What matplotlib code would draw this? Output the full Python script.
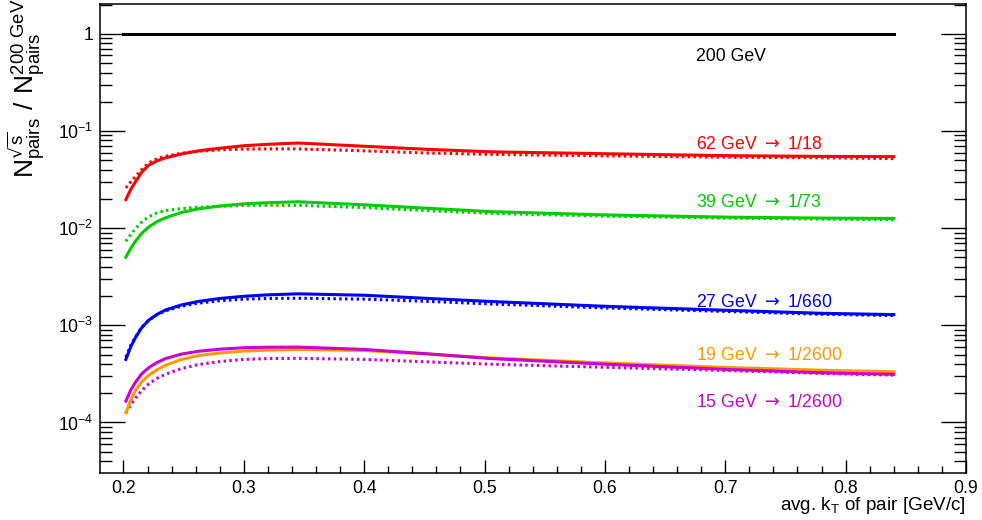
import matplotlib
matplotlib.use("Agg")
import matplotlib.pyplot as plt
import numpy as np
from matplotlib.ticker import MultipleLocator, FixedLocator, FixedFormatter, LogLocator, NullFormatter

plt.rcParams['font.family'] = ['Liberation Sans', 'DejaVu Sans']
plt.rcParams['mathtext.fontset'] = 'dejavusans'

# avg. kT of pair [GeV/c]
kt = [0.202, 0.206, 0.21, 0.215, 0.221, 0.228, 0.235, 0.248, 0.262, 0.28,
      0.30, 0.32, 0.345, 0.40, 0.45, 0.505, 0.60, 0.70, 0.78, 0.84]

ref_kt = [0.2, 0.84]
ref_200 = [1.0, 1.0]

red_solid = [0.0197, 0.025, 0.0300, 0.0375, 0.0445, 0.0495, 0.0530, 0.0580, 0.0625, 0.0665,
             0.0706, 0.073, 0.0753, 0.0697, 0.065, 0.0611, 0.0584, 0.0558, 0.0548, 0.0545]
red_dot = [0.026, 0.030, 0.034, 0.040, 0.0470, 0.0520, 0.0550, 0.0590, 0.0619, 0.064,
           0.0652, 0.0655, 0.0655, 0.0625, 0.0595, 0.0575, 0.0555, 0.0538, 0.053, 0.052]

green_solid = [0.00502, 0.0062, 0.00735, 0.0088, 0.0103, 0.0117, 0.0128, 0.0145, 0.0158, 0.0169,
               0.0178, 0.0183, 0.0187, 0.0174, 0.0161, 0.0148, 0.0137, 0.01300, 0.0127, 0.0126]
green_dot = [0.00733, 0.0086, 0.0099, 0.0115, 0.0131, 0.0144, 0.0152, 0.0159, 0.0164, 0.0168,
             0.0171, 0.0172, 0.0172, 0.0163, 0.0152, 0.0142, 0.0133, 0.0127, 0.0124, 0.0122]

blue_solid = [4.46e-4, 6.0e-4, 7.5e-4, 9.4e-4, 1.13e-3, 1.30e-3, 1.44e-3, 1.62e-3, 1.76e-3, 1.89e-3,
              1.99e-3, 2.06e-3, 2.11e-3, 2.04e-3, 1.90e-3, 1.76e-3, 1.57e-3, 1.43e-3, 1.33e-3, 1.29e-3]
blue_dot = [4.7e-4, 6.2e-4, 7.6e-4, 9.5e-4, 1.13e-3, 1.29e-3, 1.41e-3, 1.57e-3, 1.69e-3, 1.79e-3,
            1.86e-3, 1.89e-3, 1.90e-3, 1.86e-3, 1.77e-3, 1.66e-3, 1.51e-3, 1.39e-3, 1.30e-3, 1.26e-3]

orange_solid = [1.26e-4, 1.7e-4, 2.15e-4, 2.62e-4, 3.07e-4, 3.5e-4, 3.88e-4, 4.45e-4, 4.87e-4, 5.2e-4,
                5.43e-4, 5.55e-4, 5.65e-4, 5.5e-4, 5.08e-4, 4.62e-4, 4.1e-4, 3.69e-4, 3.45e-4, 3.33e-4]

magenta_solid = [1.66e-4, 2.15e-4, 2.6e-4, 3.15e-4, 3.67e-4, 4.15e-4, 4.55e-4, 5.05e-4, 5.4e-4, 5.68e-4,
                 5.88e-4, 5.95e-4, 5.97e-4, 5.65e-4, 5.12e-4, 4.55e-4, 3.98e-4, 3.52e-4, 3.25e-4, 3.13e-4]
magenta_dot = [1.26e-4, 1.52e-4, 1.78e-4, 2.12e-4, 2.5e-4, 2.85e-4, 3.14e-4, 3.58e-4, 3.94e-4, 4.24e-4,
               4.46e-4, 4.55e-4, 4.57e-4, 4.46e-4, 4.22e-4, 3.98e-4, 3.7e-4, 3.43e-4, 3.2e-4, 3.07e-4]

labels = [r"200 GeV", r"62 GeV $\rightarrow$ 1/18", r"39 GeV $\rightarrow$ 1/73",
          r"27 GeV $\rightarrow$ 1/660", r"19 GeV $\rightarrow$ 1/2600", r"15 GeV $\rightarrow$ 1/2600"]
label_y = [0.58, 0.072, 0.0182, 1.71e-3, 4.9e-4, 1.62e-4]
label_x = 0.676

yticks = [1e-4, 1e-3, 1e-2, 1e-1, 1]
yticklabels = [r'$\mathregular{10^{-4}}$', r'$\mathregular{10^{-3}}$', r'$\mathregular{10^{-2}}$',
               r'$\mathregular{10^{-1}}$', '1']

RED = '#ff0000'
GREEN = '#00cc00'
BLUE = '#0000ff'
ORANGE = '#ff9900'
MAGENTA = '#cc00cc'
colors = ['black', RED, GREEN, BLUE, ORANGE, MAGENTA]

lw = 2.2
dots = (0, (0.8, 1.1))

fig = plt.figure(figsize=(9.82, 5.2), dpi=100)
ax = fig.add_axes([100 / 982, 47 / 520, 866 / 982, 469 / 520])
ax.set_yscale('log')

ax.plot(ref_kt, ref_200, color='black', lw=lw)
ax.plot(kt, red_dot, color=RED, lw=lw, ls=dots)
ax.plot(kt, red_solid, color=RED, lw=lw)
ax.plot(kt, green_dot, color=GREEN, lw=lw, ls=dots)
ax.plot(kt, green_solid, color=GREEN, lw=lw)
ax.plot(kt, blue_dot, color=BLUE, lw=lw, ls=dots)
ax.plot(kt, blue_solid, color=BLUE, lw=lw)
ax.plot(kt, magenta_dot, color=MAGENTA, lw=lw, ls=dots)
ax.plot(kt, orange_solid, color=ORANGE, lw=lw)
ax.plot(kt, magenta_solid, color=MAGENTA, lw=lw)

for txt, yy, c in zip(labels, label_y, colors):
    ax.text(label_x, yy, txt, color=c, fontsize=12.7, ha='left', va='center')

ax.set_xlim(0.1805, 0.9)
ax.set_ylim(3.02e-5, 2.03)

ax.xaxis.set_major_locator(MultipleLocator(0.1))
ax.xaxis.set_minor_locator(MultipleLocator(0.02))
ax.xaxis.set_major_formatter(matplotlib.ticker.FormatStrFormatter('%.1f'))
ax.yaxis.set_major_locator(FixedLocator(yticks))
ax.yaxis.set_major_formatter(FixedFormatter(yticklabels))
ax.yaxis.set_minor_locator(LogLocator(base=10, subs=np.arange(2, 10)))
ax.yaxis.set_minor_formatter(NullFormatter())

ax.tick_params(axis='both', which='both', direction='in', top=False, right=True,
               width=1.0, labelsize=12.7, pad=5)
ax.tick_params(axis='x', which='major', length=9.4)
ax.tick_params(axis='x', which='minor', length=5)
ax.tick_params(axis='y', which='major', length=18)
ax.tick_params(axis='y', which='minor', length=8.6)
for sp in ax.spines.values():
    sp.set_linewidth(1.1)

fig.text(966 / 982, 10 / 520, r'avg. k$_{\mathregular{T}}$ of pair [GeV/c]',
         ha='right', va='baseline', fontsize=13.6)
fig.text(27 / 982, 1 - 88 / 520,
         r'$\mathregular{N^{\sqrt{s}}_{pairs}\ /\ N^{200\ GeV}_{pairs}}$',
         rotation=90, ha='center', va='center', fontsize=19)

fig.savefig('out.png', dpi=100)
